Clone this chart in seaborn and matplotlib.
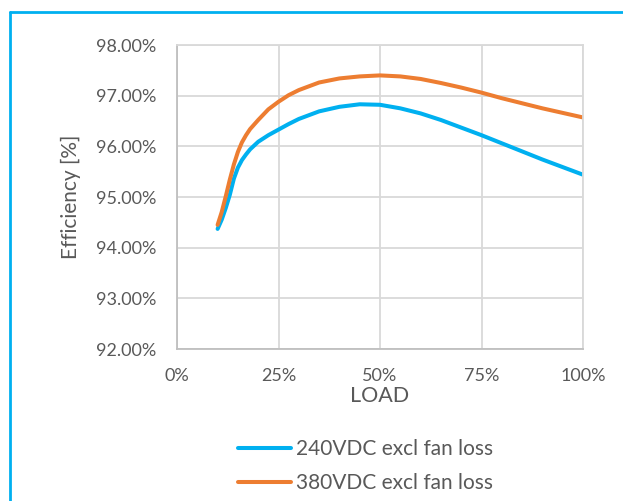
import pandas as pd
import seaborn as sns
import matplotlib.pyplot as plt
from matplotlib.lines import Line2D
from matplotlib.ticker import PercentFormatter

sns.set_theme(style="white")
plt.rcParams["font.family"] = ["Lato", "DejaVu Sans"]

# Load points (%)
load = [10, 11, 12, 13, 14, 15, 16, 17, 18, 20, 22.5, 25, 27.5, 30, 35, 40, 45,
        50, 55, 60, 65, 70, 75, 80, 85, 90, 95, 100]

# Efficiency (%) for each series
eff_240 = [94.37, 94.55, 94.78, 95.04, 95.36, 95.58, 95.73, 95.84, 95.94, 96.09,
           96.22, 96.33, 96.44, 96.54, 96.69, 96.78, 96.83, 96.82, 96.75, 96.65,
           96.52, 96.37, 96.22, 96.06, 95.90, 95.74, 95.59, 95.44]
eff_380 = [94.45, 94.70, 95.01, 95.34, 95.64, 95.89, 96.08, 96.22, 96.34, 96.52,
           96.73, 96.88, 97.01, 97.11, 97.26, 97.34, 97.38, 97.40, 97.38, 97.33,
           97.25, 97.16, 97.06, 96.95, 96.85, 96.75, 96.66, 96.57]

series_names = ["240VDC excl fan loss", "380VDC excl fan loss"]
colors = ["#00B0F0", "#ED7D31"]

df = pd.DataFrame({
    "load": load * 2,
    "eff": eff_240 + eff_380,
    "series": [series_names[0]] * len(load) + [series_names[1]] * len(load),
})

fig = plt.figure(figsize=(6.23, 5.01), dpi=100)
ax = fig.add_axes([177 / 623, 1 - 349 / 501, 406 / 623, 304 / 501])

sns.lineplot(data=df, x="load", y="eff", hue="series", palette=colors,
             linewidth=2.9, ax=ax, legend=False, solid_capstyle="round",
             solid_joinstyle="round")

text_color = "#595959"
ax.set_xlim(0, 100)
ax.set_ylim(92, 98)
ax.set_xticks([0, 25, 50, 75, 100])
ax.set_yticks([92, 93, 94, 95, 96, 97, 98])
ax.xaxis.set_major_formatter(PercentFormatter(decimals=0))
ax.yaxis.set_major_formatter(PercentFormatter(decimals=2))
ax.tick_params(colors=text_color, labelsize=13, length=0)
ax.tick_params(axis="y", pad=15)
ax.tick_params(axis="x", pad=14)
ax.grid(True, color="#D9D9D9", linewidth=1.3)
for s in ax.spines.values():
    s.set_color("#D9D9D9")
    s.set_linewidth(1.3)
ax.spines["left"].set_color("#BFBFBF")
ax.spines["bottom"].set_color("#BFBFBF")

ax.set_xlabel("LOAD", fontsize=15.5, color=text_color, labelpad=1)
ax.set_ylabel("Efficiency [%]", fontsize=15, color=text_color, labelpad=11)

handles = [Line2D([], [], color=c, linewidth=2.9, solid_capstyle="round")
           for c in colors]
fig.legend(handles, series_names, loc="upper left",
           bbox_to_anchor=(238 / 623, 1 - 439 / 501), borderaxespad=0,
           borderpad=0, frameon=False, fontsize=15, labelcolor=text_color,
           handlelength=2.55, handletextpad=0.25, labelspacing=0.68)

# light blue frame around the chart (top and left visible)
fig.add_artist(Line2D([10 / 623, 1.0], [1 - 12 / 501] * 2, color="#00B0F0",
                      linewidth=2, transform=fig.transFigure))
fig.add_artist(Line2D([10 / 623] * 2, [0, 1 - 12 / 501], color="#00B0F0",
                      linewidth=2, transform=fig.transFigure))

plt.savefig("out.png", dpi=100)
